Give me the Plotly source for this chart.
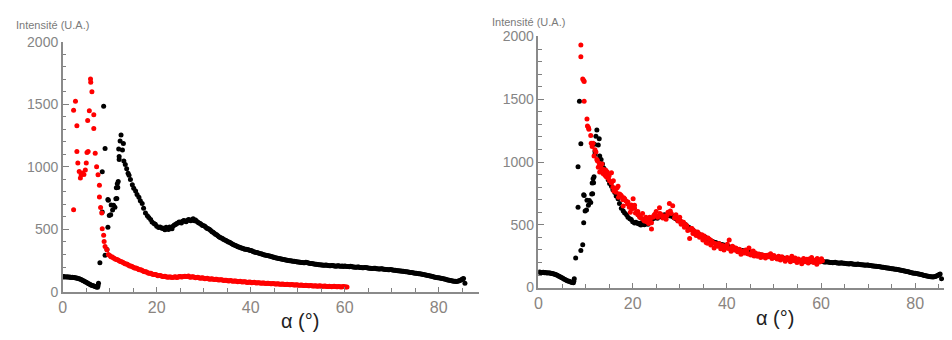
import plotly.graph_objects as go

# ---------------- data ----------------
# black series (same measurement in both panels)
black_x = [0, 0.25, 0.5, 0.75, 1, 1.25, 1.5, 1.75, 2, 2.25, 2.5, 2.75, 3, 3.25, 3.5, 3.75, 4, 4.25, 4.5, 4.75,
           5, 5.25, 5.5, 5.75, 6, 6.25, 6.5, 6.75, 7, 7.2, 7.4, 7.5, 7.6,
           7.9, 8.4, 8.4, 8.7, 9.0, 9.0, 9.4, 9.6, 9.6, 9.7, 9.9, 10.2, 10.3, 10.6, 10.8, 11.1, 11.3, 11.4, 11.5, 11.6,
           11.7, 11.8, 11.9, 12.0, 12.0, 12.2, 12.4, 12.7, 12.9, 13.0, 13.3, 13.6, 13.9, 14.1, 14.4, 14.8, 15.1, 15.5,
           15.8, 16.2, 16.5, 16.9, 17.2, 17.6, 18.0, 18.3, 18.7, 19.0, 19.4, 19.7, 20.0, 20.4, 20.7, 21.1,
           21.5, 22, 22.5, 23, 23.5, 24, 24.5, 25, 25.5, 26, 26.5, 27, 27.5, 28, 28.5, 29, 29.5, 30, 30.5, 31,
           31.5, 32, 32.5, 33, 33.5, 34, 34.5, 35, 35.5, 36, 36.5, 37, 37.5, 38, 38.5, 39, 39.5, 40, 40.5, 41,
           41.5, 42, 42.5, 43, 43.5, 44, 44.5, 45, 45.5, 46, 46.5, 47, 47.5, 48, 48.5, 49, 49.5, 50, 50.5, 51,
           51.5, 52, 52.5, 53, 53.5, 54, 54.5, 55, 55.5, 56, 56.5, 57, 57.5, 58, 58.5, 59, 59.5, 60, 60.5, 61,
           61.5, 62, 62.5, 63, 63.5, 64, 64.5, 65, 65.5, 66, 66.5, 67, 67.5, 68, 68.5, 69, 69.5, 70, 70.5, 71,
           71.5, 72, 72.5, 73, 73.5, 74, 74.5, 75, 75.5, 76, 76.5, 77, 77.5, 78, 78.5, 79, 79.5, 80, 80.5, 81,
           81.5, 82, 82.5, 83, 83.5, 84, 84.5, 85, 85.3, 85.6,
           21.25, 21.75, 22.25, 22.75, 23.25, 23.75, 24.25, 24.75, 25.25, 25.75, 26.25, 26.75, 27.25, 27.75,
           28.25, 28.75, 29.25, 29.75, 30.25, 30.75, 31.25, 31.75, 32.25, 32.75, 33.25, 33.75, 34.25, 34.75,
           35.25, 35.75, 36.25, 36.75, 37.25, 37.75, 38.25, 38.75, 39.25, 39.75, 40.25, 40.75, 41.25, 41.75,
           42.25, 42.75, 43.25, 43.75, 44.25, 44.75, 45.25, 45.75, 46.25, 46.75, 47.25, 47.75, 48.25, 48.75,
           49.25, 49.75, 50.25, 50.75, 51.25, 51.75, 52.25, 52.75, 53.25, 53.75, 54.25, 54.75, 55.25, 55.75,
           56.25, 56.75, 57.25, 57.75, 58.25, 58.75, 59.25, 59.75, 60.25, 60.75, 61.25, 61.75, 62.25, 62.75,
           63.25, 63.75, 64.25, 64.75, 65.25, 65.75, 66.25, 66.75, 67.25, 67.75, 68.25, 68.75, 69.25, 69.75,
           70.25, 70.75, 71.25, 71.75, 72.25, 72.75, 73.25, 73.75, 74.25, 74.75, 75.25, 75.75, 76.25, 76.75,
           77.25, 77.75, 78.25, 78.75, 79.25, 79.75, 80.25, 80.75, 81.25, 81.75, 82.25, 82.75, 83.25, 83.75,
           84.25, 84.75, 85.1]
black_y = [122, 124, 120, 121, 123, 119, 120, 117, 118, 116, 117, 113, 112, 109, 106, 102, 98, 93, 88, 83,
           78, 73, 67, 62, 57, 53, 50, 46, 42, 40, 38, 50, 70,
           235, 639, 962, 1485, 1146, 295, 341, 517, 739, 734, 611, 618, 696, 656, 694, 677, 745, 833, 747, 866,
           836, 883, 1142, 1060, 1083, 1206, 1255, 1136, 1186, 1048, 1020, 985, 950, 934, 900, 858, 830, 808,
           780, 757, 730, 707, 670, 631, 610, 595, 580, 560, 548, 542, 525, 515, 520, 510,
           505, 518, 500, 512, 528, 540, 552, 558, 566, 568, 572, 576, 578, 570, 566, 552, 540, 530, 516, 505,
           492, 478, 462, 450, 436, 428, 416, 406, 398, 386, 376, 368, 360, 352, 347, 342, 338, 333, 325, 318,
           314, 307, 302, 297, 292, 288, 283, 277, 272, 268, 264, 261, 257, 252, 250, 247, 244, 241, 239, 236,
           234, 236, 230, 228, 224, 222, 219, 217, 215, 217, 212, 210, 212, 208, 210, 206, 208, 209, 205, 203,
           204, 200, 198, 201, 196, 194, 196, 193, 190, 188, 190, 186, 184, 186, 182, 180, 178, 179, 175, 172,
           170, 168, 166, 163, 161, 157, 154, 151, 148, 146, 142, 138, 134, 130, 126, 121, 117, 114, 110, 106,
           102, 97, 92, 88, 86, 87, 92, 100, 108, 70,
           512, 498, 508, 520, 505, 535, 548, 560, 552, 572, 562, 580, 570, 585,
           576, 558, 548, 532, 525, 508, 500, 482, 470, 458, 442, 432, 420, 412,
           400, 392, 380, 372, 362, 357, 350, 343, 340, 334, 330, 320, 316, 310,
           306, 298, 295, 290, 286, 280, 274, 270, 266, 262, 259, 255, 251, 248,
           246, 242, 240, 237, 235, 238, 232, 229, 226, 223, 220, 218, 216, 214,
           215, 211, 213, 209, 207, 211, 207, 205, 207, 204, 206, 201, 199, 200,
           197, 195, 197, 194, 191, 189, 191, 187, 185, 187, 183, 181, 179, 180,
           176, 174, 171, 169, 167, 164, 162, 159, 156, 152, 150, 147, 144, 140,
           136, 132, 128, 124, 119, 115, 112, 108, 104, 99, 95, 90, 87, 85,
           89, 96, 104]

# red series, left panel
red_left_x = [2.3, 2.3, 2.7, 3.0, 3.0, 3.2, 3.5, 3.75, 3.9, 4.2, 4.5, 4.8, 5.0, 5.15, 5.3, 5.4, 5.65, 5.9, 5.95,
              6.2, 6.6, 6.6, 6.9, 7.2, 7.5, 7.8, 7.8, 8.05, 8.3, 8.4, 8.7, 8.8, 9.0, 9.4,
              9.7, 10, 10.5, 11, 11.5, 12, 12.5, 13, 13.5, 14, 14.5, 15, 15.5, 16, 16.5, 17, 17.5, 18, 18.5, 19,
              19.5, 20, 20.5, 21, 21.5, 22, 22.5, 23, 23.5, 24, 24.5, 25, 25.5, 26, 26.5, 27, 27.5, 28, 28.5, 29,
              29.5, 30, 30.5, 31, 31.5, 32, 32.5, 33, 33.5, 34, 34.5, 35, 35.5, 36, 36.5, 37, 37.5, 38, 38.5, 39,
              39.5, 40, 40.5, 41, 41.5, 42, 42.5, 43, 43.5, 44, 44.5, 45, 45.5, 46, 46.5, 47, 47.5, 48, 48.5, 49,
              49.5, 50, 50.5, 51, 51.5, 52, 52.5, 53, 53.5, 54, 54.5, 55, 55.5, 56, 56.5, 57, 57.5, 58, 58.5, 59,
              59.5, 60, 60.5,
              10.25, 10.75, 11.25, 11.75, 12.25, 12.75, 13.25, 13.75, 14.25, 14.75, 15.25, 15.75, 16.25, 16.75,
              17.25, 17.75, 18.25, 18.75, 19.25, 19.75, 20.25, 20.75, 21.25, 21.75, 22.25, 22.75, 23.25, 23.75,
              24.25, 24.75, 25.25, 25.75, 26.25, 26.75, 27.25, 27.75, 28.25, 28.75, 29.25, 29.75, 30.25, 30.75,
              31.25, 31.75, 32.25, 32.75, 33.25, 33.75, 34.25, 34.75, 35.25, 35.75, 36.25, 36.75, 37.25, 37.75,
              38.25, 38.75, 39.25, 39.75, 40.25, 40.75, 41.25, 41.75, 42.25, 42.75, 43.25, 43.75, 44.25, 44.75,
              45.25, 45.75, 46.25, 46.75, 47.25, 47.75, 48.25, 48.75, 49.25, 49.75, 50.25, 50.75, 51.25, 51.75,
              52.25, 52.75, 53.25, 53.75, 54.25, 54.75, 55.25, 55.75, 56.25, 56.75, 57.25, 57.75, 58.25, 58.75,
              59.25, 59.75, 60.25]
red_left_y = [658, 1453, 1524, 1328, 1124, 1032, 963, 912, 938, 951, 940, 976, 1032, 1116, 1371, 1124, 1448, 1703, 1677,
              1601, 1417, 1307, 1109, 1002, 938, 854, 760, 676, 632, 505, 454, 403, 365, 339,
              301, 292, 280, 268, 260, 250, 242, 232, 225, 215, 208, 198, 192, 184, 178, 170, 163, 156, 150, 145,
              141, 136, 132, 128, 125, 122, 120, 121, 118, 122, 119, 124, 122, 127, 124, 121, 123, 119, 117, 115,
              113, 111, 109, 107, 105, 103, 102, 99, 98, 96, 94, 92, 91, 89, 88, 86, 85, 83, 82, 80,
              79, 78, 77, 75, 74, 73, 72, 71, 70, 68, 67, 66, 65, 64, 63, 62, 61, 60, 59, 58,
              57, 56, 55, 54, 53, 52, 51, 50, 49, 49, 48, 47, 46, 46, 45, 45, 44, 44, 43, 43,
              42, 42, 41,
              283, 275, 262, 257, 244, 239, 226, 222, 209, 205, 193, 190, 179, 176, 164, 162, 150, 150, 140, 140,
              131, 132, 124, 126, 118, 121, 116, 120, 117, 124, 121, 125, 124, 128, 119, 123, 114, 118, 111, 114,
              107, 110, 103, 106, 100, 102, 96, 99, 93, 95, 89, 92, 86, 89, 83, 86, 80, 83, 77, 80,
              75, 78, 72, 75, 70, 73, 68, 71, 66, 69, 64, 67, 62, 65, 60, 63, 58, 61, 56, 59,
              54, 57, 52, 55, 50, 53, 49, 51, 47, 50, 46, 49, 45, 47, 43, 46, 42, 45, 41, 44,
              40, 43, 39]

# red series, right panel
red_right_x = [9.0, 9.0, 9.4, 9.6, 9.7, 9.7, 10.3, 10.4, 10.6, 10.7, 11.1, 11.2, 11.4, 11.6, 11.8, 12.0, 12.2, 12.4,
               12.7, 12.9, 13.0, 13.2, 13.4, 13.7, 13.9, 14.1, 14.4, 14.6, 14.8, 15.1, 15.5, 15.5, 15.8, 16.2,
               16.5, 16.9, 17.2, 17.6, 17.9, 18.3, 18.6, 19.0, 19.3, 19.7, 20.1, 20.4, 20.4, 20.8, 21.1, 21.1,
               21.5, 21.8, 22.1, 22.5, 22.8, 23.1, 23.4, 23.7, 24.0, 24.0, 24.3, 24.7, 25.0, 25.3, 25.7, 26.1,
               26.4, 26.8, 27.1, 27.5, 27.8, 28.2, 28.5, 28.9, 29.2, 29.6, 30.0, 30.3, 30.6, 31.0, 31.3, 31.7,
               32.1, 32.4, 32.8, 33.1, 33.5, 33.8, 34.2, 34.5, 34.9, 35.2, 35.6, 35.9, 36.3, 36.6, 37.0, 37.3,
               37.7, 38.0, 38.4, 38.7, 39.1, 39.4, 39.8, 40.1, 40.5, 40.9, 41.2, 41.6, 41.9, 42.3, 42.6, 43.0,
               43.3, 43.7, 44.0, 44.4, 44.7, 45.1, 45.4, 45.8, 46.1, 46.5, 46.8, 47.2, 47.5, 47.9, 48.2, 48.6,
               48.9, 49.3, 49.6, 50.0, 50.3, 50.7, 51.0, 51.4, 51.7, 52.1, 52.4, 52.8, 53.1, 53.5, 53.8, 54.2,
               54.5, 54.9, 55.2, 55.6, 55.9, 56.3, 56.6, 57.0, 57.3, 57.7, 58.0, 58.4, 58.7, 59.1, 59.4, 59.8,
               60.1, 60.3,
               16.0, 17.0, 18.0, 19.5, 22.3, 23.0, 25.5, 26.6, 29.0, 30.8, 32.6, 34.0, 36.0, 38.2, 39.6, 41.0,
               42.8, 44.2, 46.3, 48.0, 49.8, 51.6, 53.3, 55.0, 56.8, 58.6,
               12.5, 13.5, 14.3, 15.0, 15.9, 16.7, 17.4, 18.1, 18.9, 19.8, 20.6, 21.4, 22.6, 23.6, 24.5, 25.8,
               27.3, 28.0, 29.8, 30.4, 31.5, 32.3, 33.3, 34.7, 35.4, 36.8, 37.5, 38.9, 40.3, 41.4, 42.1, 43.5,
               44.6, 45.6, 47.0, 48.4, 49.1, 50.5, 51.2, 52.6, 53.7, 54.7, 55.4, 56.1, 57.5, 58.2, 59.2, 59.9]
red_right_y = [1932, 1838, 1661, 1650, 1641, 1485, 1343, 1288, 1275, 1262, 1212, 1150, 1123, 1149, 1048, 1098, 1080, 1020,
               959, 990, 921, 960, 946, 909, 940, 895, 883, 920, 870, 850, 914, 833, 800, 783,
               760, 808, 745, 732, 700, 707, 690, 682, 640, 657, 707, 656, 631, 600, 606, 580,
               560, 555, 590, 530, 560, 540, 510, 545, 467, 517, 560, 585, 606, 560, 636, 580,
               555, 570, 545, 600, 669, 590, 651, 555, 580, 530, 560, 505, 520, 480, 500, 455,
               391, 470, 430, 450, 415, 442, 400, 404, 380, 410, 360, 353, 385, 340, 360, 315,
               345, 330, 350, 310, 335, 300, 320, 345, 379, 290, 330, 300, 315, 285, 305, 265,
               290, 275, 300, 270, 315, 260, 285, 252, 275, 250, 268, 240, 262, 255, 235, 258,
               245, 270, 232, 255, 240, 227, 250, 220, 245, 230, 210, 240, 225, 205, 250, 215,
               235, 200, 228, 210, 190, 232, 205, 225, 195, 215, 240, 200, 218, 185, 222, 205,
               230, 214,
               770, 720, 650, 600, 540, 525, 570, 560, 565, 520, 470, 430, 395, 350, 330, 320,
               300, 290, 265, 255, 245, 235, 228, 222, 215, 210,
               1010, 985, 935, 890, 850, 795, 740, 715, 665, 625, 595, 575, 548, 560, 575, 590,
               575, 610, 545, 525, 490, 460, 425, 420, 392, 372, 352, 322, 312, 322, 296, 282,
               268, 292, 255, 248, 262, 236, 228, 224, 238, 212, 220, 206, 228, 208, 232, 210]

# tick labels / axis text
y_ticks = [0, 500, 1000, 1500, 2000]
x_ticks = [0, 20, 40, 60, 80]
y_title = "Intensité (U.A.)"
x_title = "α (°)"

# ---------------- figure ----------------
W, H = 952, 340
OFF = 8  # the page body has an 8px margin; positions below are page pixels minus this offset


def px_x(p):
    return (p - OFF) / W


def px_y(p):
    return 1 - (p - OFF) / H


fig = go.Figure()
mk = 5
fig.add_trace(go.Scatter(x=black_x, y=black_y, mode="markers", marker=dict(color="#000000", size=mk),
                         xaxis="x", yaxis="y", hoverinfo="skip"))
fig.add_trace(go.Scatter(x=red_left_x, y=red_left_y, mode="markers", marker=dict(color="#ff0000", size=mk),
                         xaxis="x", yaxis="y", hoverinfo="skip"))
fig.add_trace(go.Scatter(x=black_x, y=black_y, mode="markers", marker=dict(color="#000000", size=mk),
                         xaxis="x2", yaxis="y2", hoverinfo="skip"))
fig.add_trace(go.Scatter(x=red_right_x, y=red_right_y, mode="markers", marker=dict(color="#ff0000", size=mk),
                         xaxis="x2", yaxis="y2", hoverinfo="skip"))

axc = "#808080"
x_step = x_ticks[1] - x_ticks[0]
y_step = y_ticks[1] - y_ticks[0]


def xax(dom, anchor, rng):
    return dict(domain=dom, anchor=anchor, range=rng, tickmode="linear", tick0=x_ticks[0], dtick=x_step,
                showline=True, linecolor="#8a8a8a",
                linewidth=1.5, ticks="inside", ticklen=5, tickcolor=axc, tickwidth=1.4, showgrid=False,
                zeroline=False, tickfont=dict(family="Arial", size=16, color="#8a8480"),
                minor=dict(ticks="inside", ticklen=4, tickcolor=axc, tickwidth=1.2, dtick=x_step / 4,
                           tick0=x_ticks[0], showgrid=False))


def yax(dom, anchor):
    return dict(domain=dom, anchor=anchor, range=[y_ticks[0], y_ticks[-1]], tickmode="linear", tick0=y_ticks[0],
                dtick=y_step, showline=True, linecolor="#8a8a8a",
                linewidth=1.5, ticks="inside", ticklen=6, tickcolor=axc, tickwidth=1.4, showgrid=False,
                zeroline=False, tickfont=dict(family="Arial", size=14, color="#858585"),
                minor=dict(ticks="inside", ticklen=3.5, tickcolor=axc, tickwidth=1.2, dtick=y_step / 5,
                           tick0=y_ticks[0], showgrid=False))


fig.update_layout(
    width=W, height=H, margin=dict(l=0, r=0, t=0, b=0),
    paper_bgcolor="white", plot_bgcolor="white", showlegend=False,
    xaxis=xax([px_x(59), px_x(477)], "y", [0, 88.6]),
    yaxis=yax([px_y(297.7), px_y(35)], "x"),
    xaxis2=xax([px_x(536.7), px_x(950)], "y2", [0, 87.4]),
    yaxis2=yax([px_y(293), px_y(29.5)], "x2"),
    annotations=[
        dict(text=y_title, x=px_x(10), y=px_y(17), xref="paper", yref="paper", xanchor="left", yanchor="middle",
             showarrow=False, font=dict(family="Arial", size=11, color="#7a7a7a")),
        dict(text=y_title, x=px_x(488), y=px_y(14), xref="paper", yref="paper", xanchor="left", yanchor="middle",
             showarrow=False, font=dict(family="Arial", size=11, color="#7a7a7a")),
        dict(text=x_title, x=px_x(297), y=px_y(328), xref="paper", yref="paper", xanchor="center", yanchor="middle",
             showarrow=False, font=dict(family="Arial", size=20, color="#222222")),
        dict(text=x_title, x=px_x(774), y=px_y(325), xref="paper", yref="paper", xanchor="center", yanchor="middle",
             showarrow=False, font=dict(family="Arial", size=20, color="#222222")),
    ],
)

fig.write_html("out.html")
